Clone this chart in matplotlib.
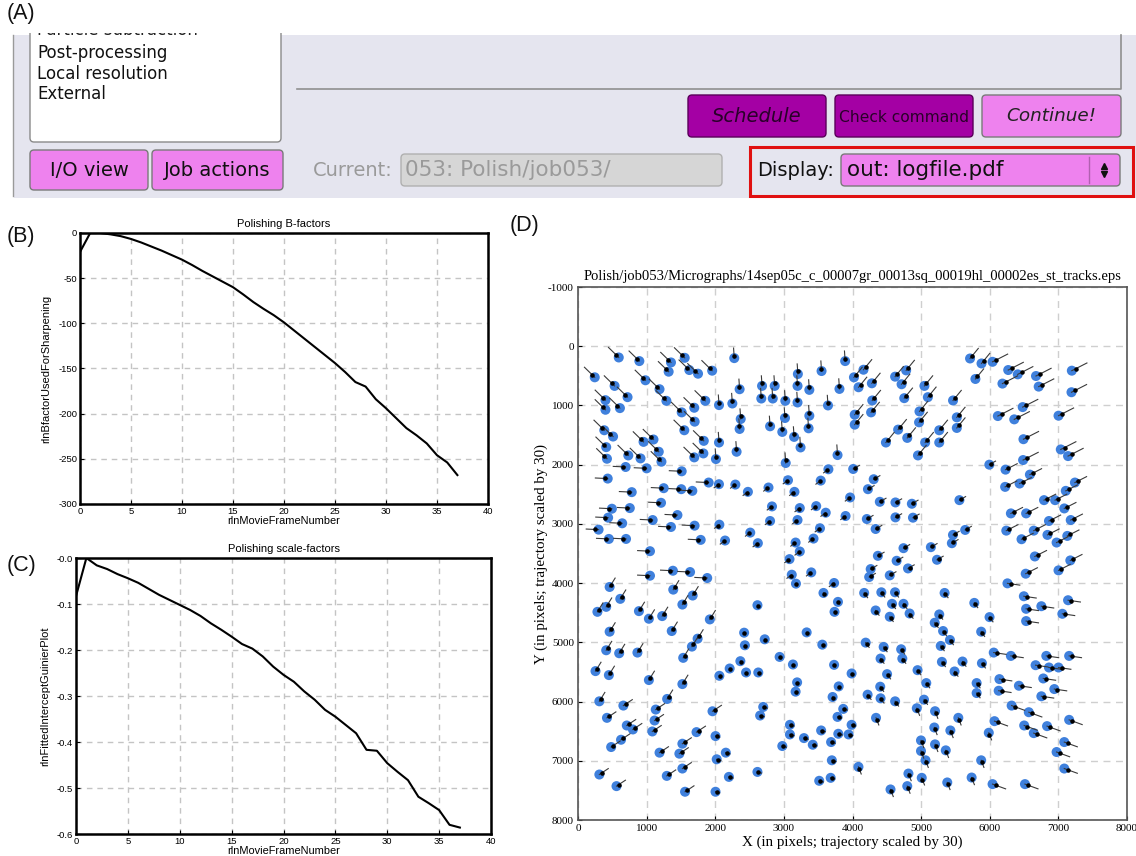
import matplotlib
matplotlib.use('Agg')
import matplotlib.pyplot as plt
from matplotlib.patches import FancyBboxPatch, Rectangle
import numpy as np

plt.rcParams['axes.unicode_minus'] = False

# ---- (B) / (C) logfile curves ----
frames = list(range(38))
bfactors = [-21, 0, 0, -1.5, -3.5, -6.6, -10.5, -15, -19.5, -24.5, -29.5, -35.5,
            -42, -48, -54, -60, -68, -76.5, -84, -91, -99, -108, -117, -126,
            -135, -144, -154, -165, -170, -184, -194, -205, -216, -224, -233,
            -246, -254, -268]
scalefactors = [-0.083, 0.0, -0.016, -0.024, -0.035, -0.044, -0.054, -0.067,
                -0.080, -0.091, -0.102, -0.113, -0.126, -0.142, -0.156, -0.171,
                -0.187, -0.197, -0.214, -0.236, -0.254, -0.269, -0.290, -0.308,
                -0.330, -0.345, -0.363, -0.381, -0.417, -0.419, -0.446, -0.465,
                -0.483, -0.519, -0.533, -0.548, -0.580, -0.586]
b_yticks = [0, -50, -100, -150, -200, -250, -300]
c_yticks = [0, -0.1, -0.2, -0.3, -0.4, -0.5, -0.6]
c_yticklabels = ['-0.0', '-0.1', '-0.2', '-0.3', '-0.4', '-0.5', '-0.6']
frame_ticks = [0, 5, 10, 15, 20, 25, 30, 35, 40]

# ---- (D) particle positions (pixels) ----
part_x = [244, 594, 894, 983, 1188, 1288, 1355, 1321, 1555, 1622, 1749, 1955, 2277, 2355,
          533, 722, 400, 400, 611, 383, 511, 411, 422, 733, 911, 955, 1100, 1177, 1216,
          1511, 1694, 1700, 1549, 1855, 2055, 2249, 1833, 2055, 1827, 1694, 2010, 2371,
          2355, 2311, 2682, 2671, 2866, 2838, 3021, 3204, 3199, 3199, 3371, 3549, 3016,
          3371, 2799, 2977, 3149, 3243, 3360, 3643, 3810, 3893, 4021, 4160, 4088, 4282,
          4288, 4032, 4032, 4271, 3782, 4621, 4782, 4715, 4754, 4487, 4665, 4798, 4976,
          4970, 5048, 5098, 5059, 4954, 5264, 5264, 5465, 5520, 5520, 5713, 5791, 5880,
          6041, 6185, 6269, 6408, 6674, 6713, 6118, 6357, 6480, 6491, 7002, 7196, 7191,
          7035, 7141, 6486,
          694, 1000, 1511, 3027, 3649, 4010, 5994, 6230, 433, 783, 1249, 1505, 1666, 1904,
          2054, 2293, 2476, 2776, 3060, 3154, 3537, 4225, 4309, 6224, 6435, 6585, 5558,
          6952, 7108, 7241, 1210, 494, 755, 439, 644, 300, 450, 700, 1088, 1449, 1355,
          1699, 1788, 2060, 2143, 2510, 2621, 2827, 2799, 3232, 3199, 3471, 3610, 3526,
          3432, 3171, 3232, 3082, 3115, 3176, 3399, 3965, 3899, 4209, 4337, 4398, 4626,
          4865, 4626, 4881, 4743, 4643, 4370, 4265, 4243, 4809, 4543, 5142, 5231, 5464,
          5448, 5642, 6241, 6308, 6530, 6641, 6463, 6657, 6791, 6863, 6841, 6974, 7086,
          7130, 7180, 7002, 7174, 6258, 6524, 6497, 6530, 6752, 6530, 7141, 7058, 5775,
          5342, 5997, 5875, 6308, 6058, 6824, 7157, 6668, 6863, 5886, 5603, 5487, 5303,
          5286, 5420, 5320, 5198, 5264, 5075, 4948, 5042, 4937, 5203, 5542, 5192, 5426,
          4998, 4998, 5064, 5203, 5359, 5009, 5381, 5736, 5875, 6041, 5986, 6069, 5809,
          5809, 6141, 6130, 6425, 6319, 6569, 6502, 6641, 6835, 6780, 6752, 6941, 7002,
          7157, 7086, 6974, 7086, 6513, 4554, 4798, 4815, 3987, 3732, 3799, 3710, 3782,
          3865, 3688, 3943, 3793, 3987, 3699, 3682, 3515, 4087, 3543, 3421, 3293, 3088,
          3088, 2977, 3560, 3738, 3788, 3577, 3732, 4192, 4454, 4409, 4504, 4404, 4409,
          4621, 4220, 4343, 4709, 4726, 4170, 4420, 4620, 4576, 4743, 4337, 4543, 4832,
          3132, 3193, 3171, 2938, 2699, 2654, 2615, 3332, 1049, 1049, 1383, 1633, 1883,
          1388, 1671, 1521, 461, 616, 411, 283, 888, 1033, 1227, 1921, 461, 1366, 1743,
          1660, 1533, 411, 600, 866, 255, 450, 1033, 1521, 311, 422, 661, 711, 800, 627,
          483, 1299, 1133, 1116, 1083, 1727, 1521, 1477, 1188, 1521, 1294, 1560, 2004,
          1960, 2021, 2154, 2199, 2004, 561, 311, 2060, 2210, 2366, 2421, 2432, 2449,
          2627, 2615, 2721]
part_y = [525, 190, 251, 575, 726, 922, 274, 430, 196, 402, 464, 413, 201, 726,
          670, 860, 911, 1073, 1045, 1419, 1525, 1704, 1900, 1844, 1894, 1615, 1575, 1782, 1950,
          1117, 1039, 1274, 1419, 922, 994, 967, 1598, 1626, 1810, 1877, 1905, 1229,
          1397, 1782, 670, 883, 670, 883, 922, 469, 670, 950, 737, 419, 1212,
          1173, 1352, 1447, 1531, 1709, 1386, 1000, 721, 251, 525, 397, 693, 626,
          916, 1156, 1324, 1117, 1838, 514, 408, 642, 877, 1626, 1408, 1548, 1101,
          1285, 670, 860, 1626, 1844, 1419, 1626, 916, 1201, 1380, 207, 553, 291,
          263, 631, 402, 475, 503, 682, 1179, 1235, 1028, 1570, 1173, 413, 777,
          1743, 1855, 1922,
          2039, 2062, 2112, 1972, 2078, 2073, 2000, 2084, 2235, 2464, 2397, 2414, 2442, 2302,
          2330, 2336, 2459, 2386, 2263, 2459, 2269, 2414, 2246, 2375, 2319, 2168, 2599,
          2599, 2442, 2302, 2644, 2744, 2733, 2895, 2990, 3097, 3254, 3254, 2935, 2851, 3052,
          3030, 3270, 3013, 3281, 3147, 3326, 2705, 2951, 2733, 2935, 2700, 2811, 3074,
          3248, 3315, 3466, 3595, 3858, 4009, 3819, 2554, 2867, 2918, 3086, 2627, 2638,
          2660, 2890, 2895, 3410, 3623, 3539, 3763, 3897, 3752, 3869, 3393, 3606, 3186,
          3326, 3102, 3114, 2823, 2823, 3114, 3259, 3550, 2599, 2951, 3186, 3315, 2739,
          3203, 2935, 3785, 3617, 4004, 3841, 4222, 4434, 4390, 4641, 4289, 4518, 4334,
          4166, 4574, 4820, 5229, 5173, 5229, 5229, 5386, 5425, 5352, 5324, 5492, 5330,
          5061, 4960, 4809, 4669, 4529, 5688, 5470, 5968, 6113, 6163, 6275, 6438, 6488,
          6656, 6835, 6992, 6723, 6824, 7288, 7366, 7283, 6992, 7394, 6527, 6331, 5856,
          5688, 5621, 5817, 5733, 6068, 6180, 6404, 6533, 6415, 5610, 5911, 5789, 5425,
          6309, 6684, 6852, 7131, 7394, 7484, 7428, 7216, 5526, 5380, 5744, 5923, 6259,
          6124, 6684, 6555, 6544, 6393, 6992, 7288, 7338, 7103, 6488, 6729, 6617, 6555,
          6393, 6751, 5039, 4485, 4317, 4166, 3998, 5005, 5078, 5274, 5537, 5749, 5945,
          5996, 5884, 6275, 5117, 5274, 4166, 4155, 4155, 4350, 4350, 4462, 4568, 4513,
          5374, 5676, 5833, 5246, 6091, 6236, 7188, 4832, 3461, 3875, 3791, 3813, 3914,
          4110, 4210, 4362, 4065, 4266, 4401, 4485, 4473, 4602, 4557, 4613, 4820, 4809, 4938,
          5072, 5262, 5134, 5184, 5173, 5486, 5553, 5637, 5705, 5996, 6275, 6068, 6404, 6471, 6645,
          6768, 5956, 6135, 6320, 6505, 6516, 6712, 6880, 6863, 7131, 7255, 7523, 6583,
          6164, 6975, 6863, 7272, 7523, 7428, 7232, 5565, 5442, 5318, 4837, 5050, 5509,
          5509, 4373, 4949]

# trajectory (x30) read per 2000x2000 region: rows = Y bins, cols = X bins
region_edges = [0, 2000, 4000, 6000, 8000]
track_dx = [[-150, -10, 120, 220],
            [-180, -70, 90, 170],
            [80, 20, 50, 180],
            [130, 60, 40, 190]]
track_dy = [[-170, -170, -170, -130],
            [-10, 60, -60, -100],
            [-150, 40, 80, 30],
            [-100, 20, 120, 80]]

W, H = 1136, 856
fig = plt.figure(figsize=(W / 100, H / 100), dpi=100)

# ---------------- (A) GUI snapshot ----------------
gui = fig.add_axes([0, 0, 1, 1])
gui.set_xlim(0, W)
gui.set_ylim(H, 0)
gui.axis('off')

lav = '#e5e5ef'
violet = '#ee82ee'
dmag = '#a400a4'
gui.add_patch(Rectangle((14, 35), W - 14, 163, facecolor=lav, edgecolor='none'))
gui.plot([13, 13], [35, 196], color='#9a9a9a', lw=1)

def box(x0, y0, x1, y1, fc, ec='#7a7a7a', r=4, lw=1):
    gui.add_patch(FancyBboxPatch((x0, y0), x1 - x0, y1 - y0,
                                 boxstyle='round,pad=0,rounding_size=%d' % r,
                                 facecolor=fc, edgecolor=ec, lw=lw))

gfont = dict(family='DejaVu Sans', va='center')
# job type list (scrolled, first entry cut off at the top)
box(30, 20, 281, 142, 'white', ec='#8a8a8a')
gui.text(37, 30, 'Particle subtraction', fontsize=12, color='#222222', **gfont)
gui.add_patch(Rectangle((0, 0), W, 33, facecolor='white', edgecolor='none', zorder=5))
for i, s in enumerate(['Post-processing', 'Local resolution', 'External']):
    gui.text(37, 53 + 20.5 * i, s, fontsize=12, color='#111111', **gfont)

# text area
gui.add_patch(Rectangle((297, 35), 824, 54, facecolor=lav, edgecolor='none'))
gui.plot([297, 1121, 1121], [89, 89, 35], color='#8f8f8f', lw=1.2)

# buttons
box(30, 150, 148, 190, violet)
gui.text(89, 170, 'I/O view', fontsize=14, ha='center', color='#111111', **gfont)
box(152, 150, 283, 190, violet)
gui.text(217, 170, 'Job actions', fontsize=14, ha='center', color='#111111', **gfont)

gui.text(313, 170, 'Current:', fontsize=14, color='#9a9a9a', **gfont)
box(401, 154, 722, 186, '#d6d6d6', ec='#b0b0b0')
gui.text(405, 170, '053: Polish/job053/', fontsize=15.5, color='#9a9a9a', **gfont)

box(688, 95, 826, 137, dmag, ec='#5a005a')
gui.text(757, 116, 'Schedule', fontsize=14, style='italic', ha='center', color='#2a002a', **gfont)
box(835, 95, 973, 137, dmag, ec='#5a005a')
gui.text(904, 117, 'Check command', fontsize=11.2, ha='center', color='#2a002a', **gfont)
box(982, 95, 1121, 137, violet)
gui.text(1051, 116, 'Continue!', fontsize=13.2, style='italic', ha='center', color='#222222', **gfont)

# display selector with red highlight
gui.add_patch(Rectangle((750, 147), 383, 49, facecolor='none', edgecolor='#e01010', lw=2.2))
gui.text(757, 170, 'Display:', fontsize=14, color='#111111', **gfont)
box(841, 154, 1120, 186, violet)
gui.text(847, 170, 'out: logfile.pdf', fontsize=15.5, color='#111111', **gfont)
gui.plot([1089, 1089], [157, 183], color='#b060b0', lw=1)
gui.plot([1104], [166], marker='^', ms=4, color='#111111')
gui.plot([1104], [174], marker='v', ms=4, color='#111111')

# panel letters
lab = dict(family='Liberation Sans', fontsize=15.5, va='center', color='#111111', zorder=6)
gui.text(7, 13, '(A)', **lab)
gui.text(7, 236, '(B)', **lab)
gui.text(7, 566, '(C)', **lab)
gui.text(510, 225, '(D)', **lab)

# ---------------- (B) / (C) ----------------
def frac(x0, y0, x1, y1):
    return [x0 / W, 1 - y1 / H, (x1 - x0) / W, (y1 - y0) / H]

sans = 'Liberation Sans'

def log_panel(rect, yvals, title, ylabel, ylim, yticks, yticklabels):
    ax = fig.add_axes(frac(*rect))
    ax.plot(frames, yvals, color='black', lw=1.5, zorder=3)
    ax.set_xlim(0, 40)
    ax.set_ylim(*ylim)
    ax.set_xticks(frame_ticks)
    ax.set_yticks(yticks)
    ax.set_yticklabels(yticklabels)
    ax.grid(True, color='#c4c4c4', lw=1, linestyle=(0, (4, 3.5)))
    for s in ax.spines.values():
        s.set_linewidth(1.8)
    ax.tick_params(direction='in', length=3, width=0.8, labelsize=6.8, pad=2)
    for t in ax.get_xticklabels() + ax.get_yticklabels():
        t.set_family(sans)
    ax.set_title(title, fontsize=8, family=sans, pad=4)
    ax.set_xlabel('rlnMovieFrameNumber', fontsize=7.9, family=sans, labelpad=0)
    ax.set_ylabel(ylabel, fontsize=8, family=sans, labelpad=5)
    return ax

log_panel((80, 233, 488, 504), bfactors, 'Polishing B-factors',
          'rlnBfactorUsedForSharpening', (-300, 0), b_yticks,
          [str(v) for v in b_yticks])
log_panel((76, 558, 491, 834), scalefactors, 'Polishing scale-factors',
          'rlnFittedInterceptGuinierPlot', (-0.6, 0), c_yticks, c_yticklabels)

# ---------------- (D) particle tracks ----------------
serif = 'Liberation Serif'
axd = fig.add_axes(frac(578, 287, 1127, 820))
px = np.array(part_x)
py = np.array(part_y)
ci = np.clip(np.searchsorted(region_edges, px, side='right') - 1, 0, 3)
ri = np.clip(np.searchsorted(region_edges, py, side='right') - 1, 0, 3)
dx = np.array(track_dx)[ri, ci]
dy = np.array(track_dy)[ri, ci]
axd.scatter(px, py, s=52, color='#3f80dc', edgecolors='none', zorder=3)
segs_x = np.vstack([px, px + dx, np.full(px.shape, np.nan)]).T.ravel()
segs_y = np.vstack([py, py + dy, np.full(py.shape, np.nan)]).T.ravel()
axd.plot(segs_x, segs_y, color='#3a3a3a', lw=0.8, zorder=4)
axd.scatter(px + 0.25 * dx, py + 0.25 * dy, s=5, color='black', zorder=4)
axd.set_xlim(0, 8000)
axd.set_ylim(8000, -1000)
axd.set_xticks(np.arange(0, 8001, 1000))
axd.set_yticks(np.arange(-1000, 8001, 1000))
axd.grid(True, color='#cfcfcf', lw=1, linestyle=(0, (5, 4)))
for s in axd.spines.values():
    s.set_color('#555555')
    s.set_linewidth(1.2)
axd.tick_params(direction='in', length=3, width=0.8, labelsize=8, pad=3)
for t in axd.get_xticklabels() + axd.get_yticklabels():
    t.set_family(serif)
axd.set_title('Polish/job053/Micrographs/14sep05c_c_00007gr_00013sq_00019hl_00002es_st_tracks.eps',
              fontsize=10.5, family=serif, pad=5)
axd.set_xlabel('X (in pixels; trajectory scaled by 30)', fontsize=10.8, family=serif, labelpad=2)
axd.set_ylabel('Y (in pixels; trajectory scaled by 30)', fontsize=10.8, family=serif, labelpad=0)

fig.savefig('out.png', dpi=100)
